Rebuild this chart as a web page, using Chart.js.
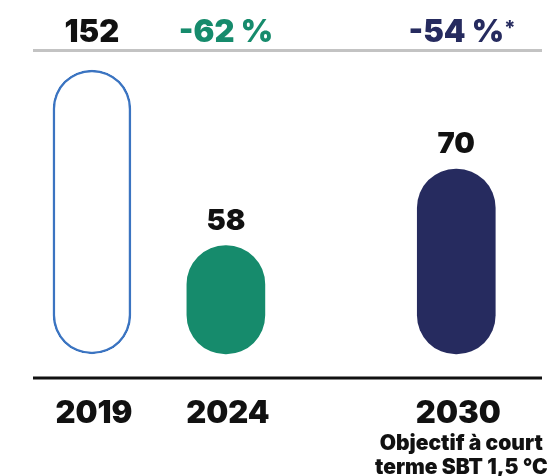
<!DOCTYPE html>
<html lang="fr">
<head>
<meta charset="utf-8">
<script src="https://cdn.jsdelivr.net/npm/chart.js@4.4.1/dist/chart.umd.min.js"></script>
<style>
  html, body { margin: 0; padding: 0; background: #fff; }
  #wrap { width: 550px; height: 476px; }
</style>
</head>
<body>
<div id="wrap"><canvas id="chart"></canvas></div>
<script>
const years = ['2019', '2024', '2030'];
const values = [152, 58, 70];
// in the source the 2030 target bar is drawn taller than its value
const barHeights = [152, 58, 99];
const targetNote = ['Objectif à court', 'terme SBT 1,5 °C'];
// where each column sits along the x axis (2030 stands apart)
const xSlot = [0, 1, 2.72];

const FONT = 'Inter, "Noto Sans", sans-serif';
const W = 900;
const INK = '#111111';
const fills = ['#ffffff', '#168b6c', '#262b5f'];
const borders = ['#3b74c1', '#168b6c', '#262b5f'];
const borderW = [2.5, 0, 0];

// change vs 2019, in %
const changes = values.map(v => Math.round((v - values[0]) / values[0] * 100));

const labelsPlugin = {
  id: 'labels',
  afterDatasetsDraw(chart) {
    const {ctx, chartArea: a, scales: {x}} = chart;
    const meta = chart.getDatasetMeta(0);
    ctx.save();
    // rules
    ctx.fillStyle = '#c3c3c3';
    ctx.fillRect(a.left, a.top - 1, a.right - a.left, 3);
    ctx.fillStyle = INK;
    ctx.fillRect(a.left, a.bottom - 1.5, a.right - a.left, 3);

    ctx.textAlign = 'center';
    ctx.textBaseline = 'alphabetic';
    years.forEach((yr, i) => {
      const cx = x.getPixelForValue(xSlot[i]);
      // top row: base value, then change vs base
      ctx.font = `${W} 31px ${FONT}`;
      if (i === 0) {
        ctx.fillStyle = INK;
        ctx.fillText(String(values[0]), cx, 42);
      } else {
        const txt = `${changes[i]} %`;
        ctx.fillStyle = fills[i];
        ctx.fillText(txt, cx, 42);
        if (i === years.length - 1) {
          const w = ctx.measureText(txt).width;
          ctx.font = `800 20px ${FONT}`;
          ctx.textAlign = 'left';
          ctx.fillText('*', cx + w / 2, 35);
          ctx.textAlign = 'center';
        }
        // value above the bar
        ctx.font = `${W} 29px ${FONT}`;
        ctx.fillStyle = INK;
        ctx.fillText(String(values[i]), cx, meta.data[i].y - 16);
      }
      // year under the axis
      ctx.font = `${W} 31px ${FONT}`;
      ctx.fillStyle = INK;
      ctx.fillText(yr, cx + 2, 423);
    });
    // note under 2030
    const nx = x.getPixelForValue(xSlot[2]) + 5;
    ctx.font = `${W} 21px ${FONT}`;
    ctx.fillText(targetNote[0], nx, 450);
    ctx.fillText(targetNote[1], nx, 474);
    ctx.restore();
  }
};

new Chart(document.getElementById('chart'), {
  type: 'bar',
  data: {
    datasets: [{
      data: barHeights.map((h, i) => ({x: xSlot[i], y: h})),
      backgroundColor: fills,
      borderColor: borders,
      borderWidth: borderW,
      borderRadius: 40,
      borderSkipped: false,
      barThickness: 78
    }]
  },
  options: {
    responsive: true,
    maintainAspectRatio: false,
    animation: false,
    layout: {padding: {top: 50, bottom: 98, left: 33, right: 8}},
    plugins: {legend: {display: false}, tooltip: {enabled: false}},
    scales: {
      x: {type: 'linear', display: false, offset: false, min: -0.44, max: 3.36},
      y: {display: false, min: -12.85, max: 162.7}
    }
  },
  plugins: [labelsPlugin]
});
</script>
</body>
</html>
